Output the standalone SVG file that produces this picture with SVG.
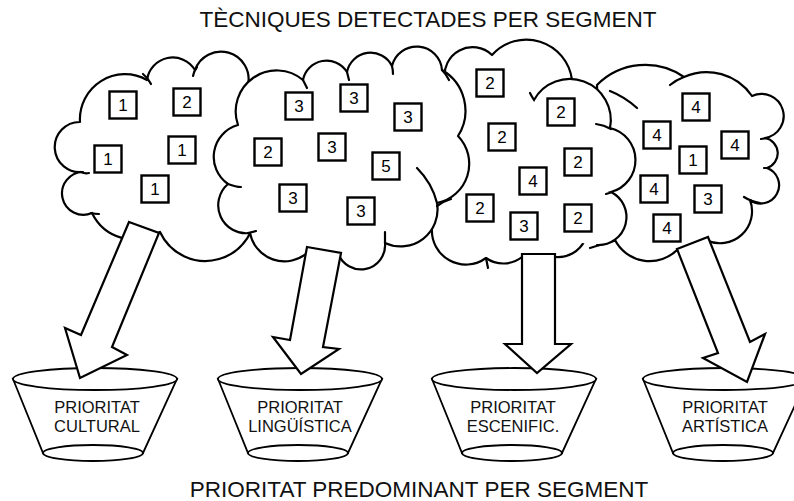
<svg xmlns="http://www.w3.org/2000/svg" xmlns:xlink="http://www.w3.org/1999/xlink" width="794" height="501" viewBox="0 0 794 501">
  <style>
    .cloud { fill: #fff; stroke: #000; stroke-width: 2.2; stroke-linejoin: round; }
    .cfill { fill: #fff; stroke: none; }
    .cline { fill: none; stroke: #000; stroke-width: 2.2; stroke-linecap: round; }
    .box { fill: #fff; stroke: #000; stroke-width: 2.4; }
    .num { font-family: "Liberation Sans", Arial, sans-serif; font-size: 17px; fill: #000; text-anchor: middle; }
    .arrow { fill: #fff; stroke: #000; stroke-width: 2.2; stroke-linejoin: miter; }
    .bowl { fill: #fff; stroke: #000; stroke-width: 1.8; }
    .label { font-family: "Liberation Sans", Arial, sans-serif; font-size: 16.5px; fill: #111; text-anchor: middle; }
    .title { font-family: "Liberation Sans", Arial, sans-serif; font-size: 22.5px; fill: #111; text-anchor: middle; }
  </style>
  <defs>
    <rect id="bx" class="box" x="-13.5" y="-13.5" width="27" height="27"/>
  </defs>

  <text class="title" x="428" y="27">TÈCNIQUES DETECTADES PER SEGMENT</text>

  <!-- segment clouds -->
  <g id="cloud-1">
    <path class="cloud" d="M80,122 A45,45 0 0 1 147,80 A26,26 0 0 1 195,70 A27.6,27.6 0 0 1 248,85 L255,205 A50,50 0 0 1 160,232 A47,47 0 0 1 92,213 A21.4,21.4 0 1 1 83,172 A25.1,25.1 0 1 1 80,122 Z"/>
    <path class="cline" d="M143,74 Q148,78 151,84 M197,67 Q194,71 193,76 M81,172 Q85,174 89,173 M91,213 Q95,214 99,214"/>
  </g>
  <g id="cloud-4">
    <path class="cloud" d="M597,85 A68,68 0 0 1 684,77 A55,55 0 0 1 752,96 A22.2,22.2 0 1 1 765,138 A15.5,15.5 0 0 1 767,168 A18.3,18.3 0 1 1 750,200 A32,32 0 0 1 706,240 L677,250 A39,39 0 0 1 615,240 L600,200 Z"/>
    <path class="cline" d="M610,91 Q625,97 637,108 M670,85 Q676,80 684,77 M761,139 L767,138 M764,168 L769,168 M744,197 Q752,202 760,203 M590,248 Q602,244 614,241"/>
  </g>
  <g id="cloud-3">
    <path class="cloud" d="M445,80 A28,28 0 0 1 492,55 A46,46 0 0 1 572,80 L600,110 L600,235 L585,240 A30,30 0 0 1 555,257 L522,257 A30,30 0 0 1 486,258 A34,34 0 0 1 432,228 L435,140 Z"/>
    <path class="cline" d="M486,258 Q487,263 488,268"/>
    <path class="cfill" d="M534,100 A41,41 0 0 1 610,128 A33,33 0 0 1 611,192 A28,28 0 0 1 597,245 L560,240 L540,150 Z"/>
    <path class="cline" d="M530,93 Q532,97 534,100 A41,41 0 0 1 610,128 A33,33 0 0 1 611,192 A28,28 0 0 1 597,245 M596,124 Q604,125 611,129 M606,194 Q610,193 614,191"/>
  </g>
  <g id="cloud-2">
    <path class="cloud" d="M238,125 A41,41 0 0 1 303,80 A24,24 0 0 1 347,72 A24,24 0 0 1 392,66 A25.4,25.4 0 0 1 442,70 A47,47 0 0 1 458,136 A40,40 0 0 1 437,203 A37,37 0 0 1 385,243 A24.2,24.2 0 0 1 338,253 L307,253 A35,35 0 0 1 250,233 A28,28 0 0 1 228,184 A33,33 0 0 1 238,125 Z"/>
    <path class="cline" d="M417,168 Q432,183 437,203 M437,206 Q444,201 451,199 M385,243 L385,232 M248,233 L256,231 M228,184 Q236,187 241,187 M303,80 Q305,84 307,88 M347,72 Q348,76 349,80 M392,66 Q393,70 393,74 M442,70 Q446,74 449,80"/>
  </g>

  <!-- technique boxes -->
  <g id="boxes-1">
    <use xlink:href="#bx" x="123" y="105"/><text class="num" x="123" y="111">1</text>
    <use xlink:href="#bx" x="187" y="102"/><text class="num" x="187" y="108">2</text>
    <use xlink:href="#bx" x="108" y="159"/><text class="num" x="108" y="165">1</text>
    <use xlink:href="#bx" x="182" y="150"/><text class="num" x="182" y="156">1</text>
    <use xlink:href="#bx" x="155" y="189"/><text class="num" x="155" y="195">1</text>
  </g>
  <g id="boxes-2">
    <use xlink:href="#bx" x="299" y="106"/><text class="num" x="299" y="112">3</text>
    <use xlink:href="#bx" x="354" y="98"/><text class="num" x="354" y="104">3</text>
    <use xlink:href="#bx" x="408" y="117"/><text class="num" x="408" y="123">3</text>
    <use xlink:href="#bx" x="268" y="152"/><text class="num" x="268" y="158">2</text>
    <use xlink:href="#bx" x="332" y="147"/><text class="num" x="332" y="153">3</text>
    <use xlink:href="#bx" x="386" y="166"/><text class="num" x="386" y="172">5</text>
    <use xlink:href="#bx" x="293" y="198"/><text class="num" x="293" y="204">3</text>
    <use xlink:href="#bx" x="361" y="211"/><text class="num" x="361" y="217">3</text>
  </g>
  <g id="boxes-3">
    <use xlink:href="#bx" x="490" y="83"/><text class="num" x="490" y="89">2</text>
    <use xlink:href="#bx" x="561" y="112"/><text class="num" x="561" y="118">2</text>
    <use xlink:href="#bx" x="502" y="137"/><text class="num" x="502" y="143">2</text>
    <use xlink:href="#bx" x="578" y="162"/><text class="num" x="578" y="168">2</text>
    <use xlink:href="#bx" x="533" y="181"/><text class="num" x="533" y="187">4</text>
    <use xlink:href="#bx" x="480" y="208"/><text class="num" x="480" y="214">2</text>
    <use xlink:href="#bx" x="524" y="226"/><text class="num" x="524" y="232">3</text>
    <use xlink:href="#bx" x="578" y="218"/><text class="num" x="578" y="224">2</text>
  </g>
  <g id="boxes-4">
    <use xlink:href="#bx" x="696" y="107"/><text class="num" x="696" y="113">4</text>
    <use xlink:href="#bx" x="657" y="135"/><text class="num" x="657" y="141">4</text>
    <use xlink:href="#bx" x="735" y="145"/><text class="num" x="735" y="151">4</text>
    <use xlink:href="#bx" x="693" y="160"/><text class="num" x="693" y="166">1</text>
    <use xlink:href="#bx" x="654" y="189"/><text class="num" x="654" y="195">4</text>
    <use xlink:href="#bx" x="708" y="199"/><text class="num" x="708" y="205">3</text>
    <use xlink:href="#bx" x="667" y="228"/><text class="num" x="667" y="234">4</text>
  </g>

  <!-- priority bowls -->
  <g id="bowl-cultural">
    <path class="bowl" d="M13,379 L43,453 L143,453 L177,379 Z"/>
    <ellipse class="bowl" cx="95" cy="379" rx="82" ry="11"/>
    <ellipse class="bowl" cx="93" cy="453" rx="50" ry="8"/>
    <text class="label" x="97" y="413">PRIORITAT</text>
    <text class="label" x="97" y="432">CULTURAL</text>
  </g>
  <g id="bowl-linguistica">
    <path class="bowl" d="M218,379 L248,453 L348,453 L382,379 Z"/>
    <ellipse class="bowl" cx="300" cy="379" rx="82" ry="11"/>
    <ellipse class="bowl" cx="298" cy="453" rx="50" ry="8"/>
    <text class="label" x="300" y="413">PRIORITAT</text>
    <text class="label" x="300" y="432">LINGÜÍSTICA</text>
  </g>
  <g id="bowl-escenific">
    <path class="bowl" d="M432,379 L462,453 L562,453 L596,379 Z"/>
    <ellipse class="bowl" cx="514" cy="379" rx="82" ry="11"/>
    <ellipse class="bowl" cx="512" cy="453" rx="50" ry="8"/>
    <text class="label" x="513" y="413">PRIORITAT</text>
    <text class="label" x="513" y="432">ESCENIFIC.</text>
  </g>
  <g id="bowl-artistica">
    <path class="bowl" d="M643,379 L673,453 L773,453 L807,379 Z"/>
    <ellipse class="bowl" cx="725" cy="379" rx="82" ry="11"/>
    <ellipse class="bowl" cx="723" cy="453" rx="50" ry="8"/>
    <text class="label" x="725" y="413">PRIORITAT</text>
    <text class="label" x="725" y="432">ARTÍSTICA</text>
  </g>

  <!-- connectors: block arrows from each cloud into its bowl -->
  <g id="connectors">
    <polygon class="arrow" points="129,222 159,233 112,347 127,355 80,378 65,328 81,335"/>
    <polygon class="arrow" points="307,247 341,253 323,347 339,349 301,374 273,337 290,340"/>
    <polygon class="arrow" points="522,254 555,254 555,344 571,344 537,373 505,344 522,344"/>
    <polygon class="arrow" points="677,249 708,237 750,342 765,334 747,382 703,358 718,353"/>
  </g>

  <text class="title" x="419" y="497">PRIORITAT PREDOMINANT PER SEGMENT</text>
</svg>
